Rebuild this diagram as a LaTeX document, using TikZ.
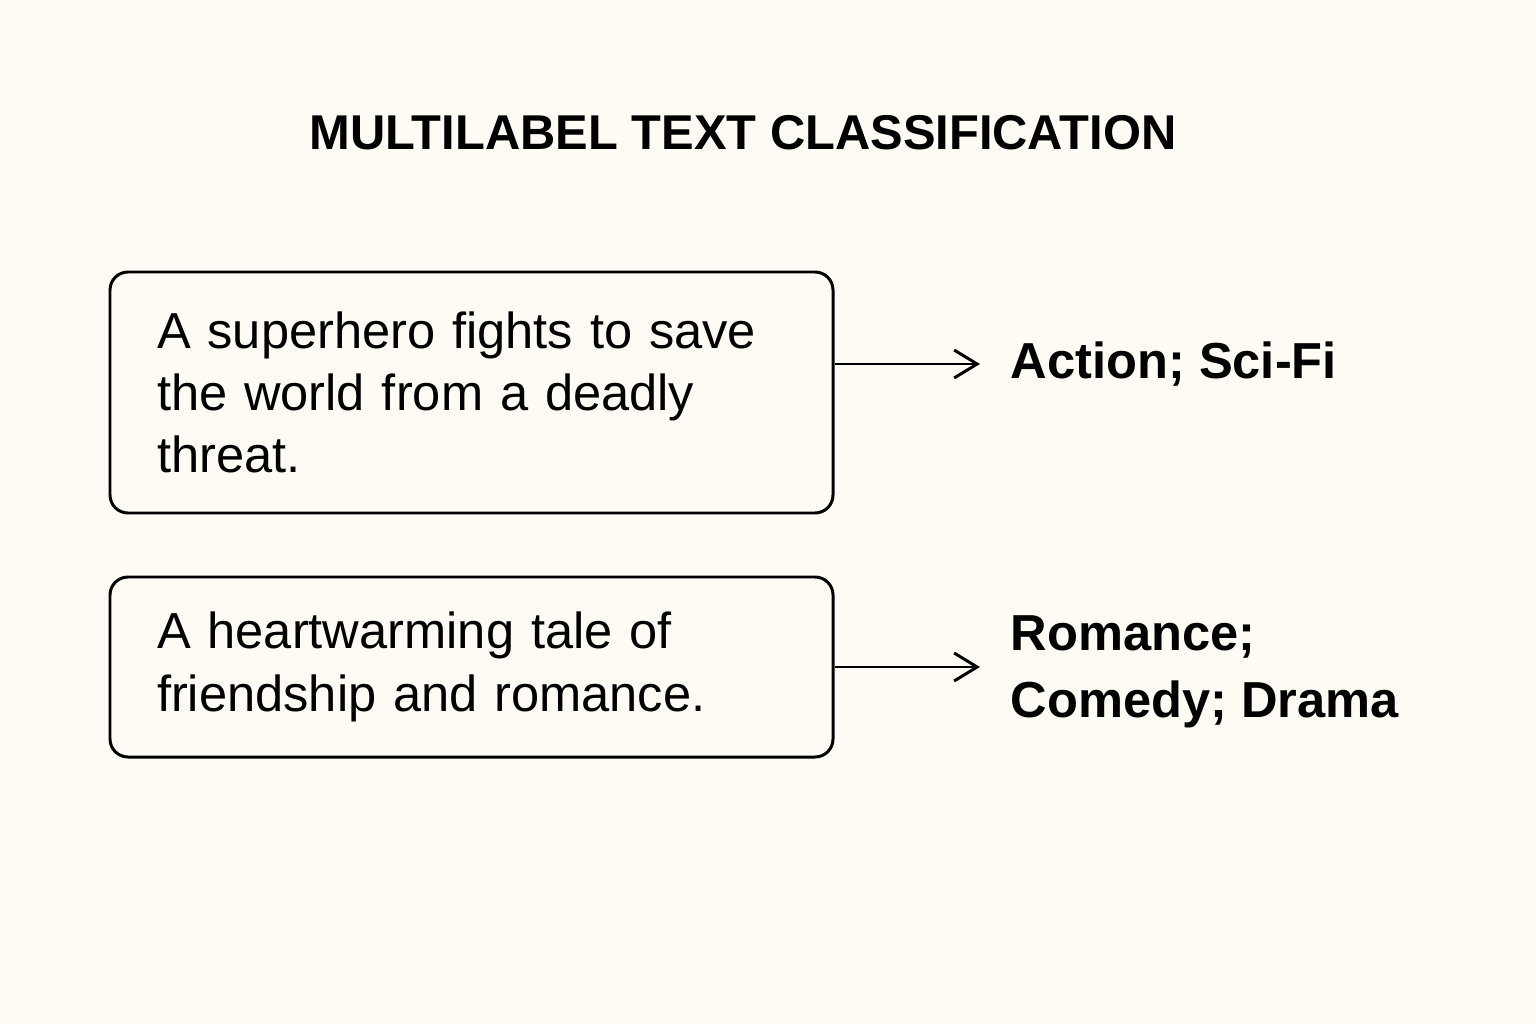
\documentclass[tikz,border=0pt]{standalone}
\usepackage{fontspec}
\setmainfont{Liberation Sans}
\usepackage{xcolor}
\usetikzlibrary{positioning}
\usetikzlibrary{arrows.meta}

\definecolor{paper}{HTML}{FDFBF3}

\tikzset{
  moviebox/.style={draw=black, line width=0.85pt, rounded corners=0.18cm,
    minimum width=7.23cm, minimum height=2.41cm, inner xsep=0.47cm,
    text width=6.29cm, align=left, font=\fontsize{14.4}{17.7}\selectfont},
  genre/.style={anchor=west, inner xsep=0.3cm, align=left,
    font=\fontsize{14.4}{19}\selectfont\bfseries},
  tag/.style={-{Straight Barb[length=2.3mm, width=2.8mm, line width=0.85pt]}, line width=0.8pt}
}

\begin{document}
\begin{tikzpicture}

\fill[paper] (0,0) rectangle (15.36,10.24);
\useasboundingbox (0,0) rectangle (15.36,10.24);

% title
\node (title) at (7.43, 8.91) [font=\fontsize{13.9}{15}\selectfont\bfseries]{MULTILABEL TEXT CLASSIFICATION};

% first example
\node[moviebox] (plot1) at (4.715, 6.315) {A superhero fights to save the world from a deadly threat.};
\node[genre] (genre1) at (9.80, 6.60) {Action; Sci-Fi};
\draw[tag] (plot1.east |- genre1.west) -- (genre1.west);

% second example
\node[moviebox, minimum height=1.80cm] (plot2) at (4.715, 3.57) {A heartwarming tale of friendship and romance.};
\node[genre] (genre2) at (9.80, 3.52) {Romance;\\Comedy; Drama};
\draw[tag] (plot2.east) -- (plot2.east -| genre2.west);

\end{tikzpicture}
\end{document}
